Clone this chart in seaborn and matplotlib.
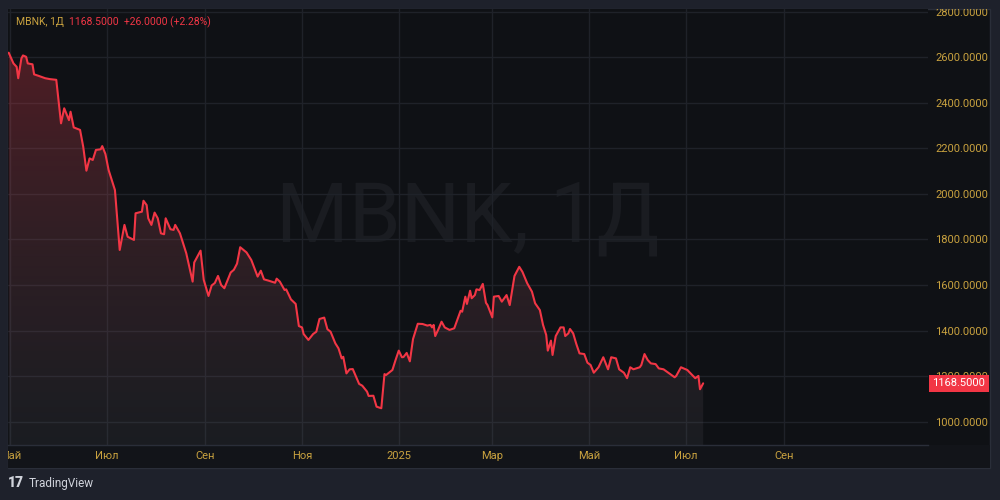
import numpy as np
import pandas as pd
import matplotlib
matplotlib.use("Agg")
import matplotlib.pyplot as plt
import matplotlib.dates as mdates
import matplotlib.transforms as mtransforms
from matplotlib.patches import Rectangle
from matplotlib.colors import to_rgb
import seaborn as sns

# MBNK daily close
dates = [
    "2024-04-30", "2024-05-03", "2024-05-05", "2024-05-06", "2024-05-08", "2024-05-09",
    "2024-05-11", "2024-05-12", "2024-05-15", "2024-05-16", "2024-05-19", "2024-05-23",
    "2024-05-26", "2024-05-30", "2024-06-02", "2024-06-04", "2024-06-07", "2024-06-08",
    "2024-06-10", "2024-06-14", "2024-06-16", "2024-06-18", "2024-06-20", "2024-06-22",
    "2024-06-24", "2024-06-27", "2024-06-28", "2024-06-30", "2024-07-02", "2024-07-06",
    "2024-07-09", "2024-07-12", "2024-07-14", "2024-07-18", "2024-07-19", "2024-07-23",
    "2024-07-24", "2024-07-26", "2024-07-27", "2024-07-29", "2024-07-31", "2024-08-02",
    "2024-08-04", "2024-08-06", "2024-08-07", "2024-08-10", "2024-08-12", "2024-08-13",
    "2024-08-16", "2024-08-20", "2024-08-24", "2024-08-25", "2024-08-29", "2024-08-31",
    "2024-09-03", "2024-09-05", "2024-09-07", "2024-09-09", "2024-09-11", "2024-09-13",
    "2024-09-17", "2024-09-19", "2024-09-21", "2024-09-23", "2024-09-27", "2024-09-30",
    "2024-10-04", "2024-10-06", "2024-10-08", "2024-10-11", "2024-10-15", "2024-10-16",
    "2024-10-18", "2024-10-21", "2024-10-22", "2024-10-25", "2024-10-28", "2024-10-30",
    "2024-11-01", "2024-11-02", "2024-11-05", "2024-11-08", "2024-11-10", "2024-11-12",
    "2024-11-15", "2024-11-17", "2024-11-19", "2024-11-22", "2024-11-24", "2024-11-26",
    "2024-11-27", "2024-11-29", "2024-12-01", "2024-12-03", "2024-12-07", "2024-12-09",
    "2024-12-12", "2024-12-13", "2024-12-16", "2024-12-18", "2024-12-21", "2024-12-23",
    "2024-12-24", "2024-12-28", "2024-12-30", "2025-01-01", "2025-01-03", "2025-01-04",
    "2025-01-06", "2025-01-08", "2025-01-10", "2025-01-13", "2025-01-16", "2025-01-19",
    "2025-01-21", "2025-01-22", "2025-01-23", "2025-01-24", "2025-01-26", "2025-01-28",
    "2025-01-30", "2025-02-02", "2025-02-05", "2025-02-09", "2025-02-10", "2025-02-12",
    "2025-02-13", "2025-02-15", "2025-02-16", "2025-02-18", "2025-02-19", "2025-02-21",
    "2025-02-23", "2025-02-25", "2025-02-26", "2025-03-01", "2025-03-02", "2025-03-05",
    "2025-03-07", "2025-03-10", "2025-03-12", "2025-03-15", "2025-03-18", "2025-03-20",
    "2025-03-23", "2025-03-26", "2025-03-28", "2025-03-31", "2025-04-02", "2025-04-04",
    "2025-04-05", "2025-04-07", "2025-04-08", "2025-04-10", "2025-04-13", "2025-04-15",
    "2025-04-16", "2025-04-18", "2025-04-19", "2025-04-21", "2025-04-23", "2025-04-25",
    "2025-04-28", "2025-04-30", "2025-05-02", "2025-05-04", "2025-05-07", "2025-05-10",
    "2025-05-13", "2025-05-15", "2025-05-18", "2025-05-20", "2025-05-23", "2025-05-25",
    "2025-05-27", "2025-05-29", "2025-06-02", "2025-06-03", "2025-06-05", "2025-06-07",
    "2025-06-09", "2025-06-12", "2025-06-14", "2025-06-17", "2025-06-20", "2025-06-24",
    "2025-06-25", "2025-06-28", "2025-07-02", "2025-07-05", "2025-07-07", "2025-07-09",
    "2025-07-10", "2025-07-12",
]
close = [
    2620, 2573, 2558, 2508, 2595, 2608,
    2602, 2573, 2569, 2525, 2518, 2508,
    2504, 2501, 2310, 2376, 2324, 2361,
    2292, 2281, 2207, 2102, 2156, 2149,
    2193, 2196, 2210, 2175, 2105, 2017,
    1754, 1864, 1812, 1798, 1915, 1922,
    1970, 1951, 1893, 1864, 1918, 1893,
    1827, 1823, 1893, 1845, 1842, 1864,
    1827, 1739, 1615, 1699, 1751, 1623,
    1552, 1598, 1609, 1640, 1600, 1586,
    1655, 1667, 1694, 1766, 1743, 1710,
    1637, 1663, 1625, 1619, 1610, 1628,
    1615, 1578, 1581, 1537, 1517, 1420,
    1414, 1385, 1359, 1385, 1395, 1451,
    1457, 1406, 1395, 1344, 1322, 1278,
    1285, 1212, 1230, 1231, 1166, 1158,
    1132, 1113, 1114, 1066, 1059, 1209,
    1205, 1227, 1271, 1312, 1283, 1284,
    1302, 1265, 1363, 1430, 1429, 1422,
    1425, 1414, 1425, 1376, 1406, 1439,
    1414, 1403, 1410, 1487, 1483, 1549,
    1517, 1575, 1542, 1556, 1581, 1578,
    1605, 1522, 1512, 1458, 1549, 1552,
    1527, 1556, 1512, 1640, 1680, 1658,
    1608, 1571, 1520, 1490, 1425, 1381,
    1312, 1356, 1293, 1376, 1414, 1414,
    1376, 1388, 1407, 1388, 1341, 1300,
    1297, 1259, 1249, 1215, 1239, 1283,
    1230, 1283, 1278, 1230, 1215, 1191,
    1239, 1230, 1239, 1249, 1297, 1271,
    1256, 1253, 1234, 1230, 1215, 1195,
    1201, 1239, 1227, 1205, 1191, 1201,
    1142.5, 1168.5,
]

tick_dates = ["2024-05-01", "2024-07-01", "2024-09-01", "2024-11-01", "2025-01-01",
              "2025-03-01", "2025-05-01", "2025-07-01", "2025-09-01"]
tick_labels = ["Май", "Июл", "Сен", "Ноя", "2025", "Мар", "Май", "Июл", "Сен"]
price_ticks = [1000, 1200, 1400, 1600, 1800, 2000, 2200, 2400, 2600, 2800]

symbol = "MBNK, 1Д"
last_price = 1168.5
change = 26.0
change_pct = 2.28

# colours
OUTER = "#1e212b"
BG = "#0f1115"
STRIP = "#121419"
BORDER = "#2a2e39"
GRID = "#1f2229"
GOLD = "#c9a23f"
RED = "#f23645"
WATERMARK = "#1a1c21"

sns.set_theme(style="dark")
plt.rcParams["font.family"] = ["Roboto", "DejaVu Sans"]

df = pd.DataFrame({"date": pd.to_datetime(dates), "close": close})

W, H = 1000, 500
def fx(px):
    return px / W
def fy(py):
    return 1 - py / H

fig = plt.figure(figsize=(10, 5), dpi=100, facecolor=OUTER)

# chart panel + time-scale strip (behind the axes)
fig.patches.append(Rectangle((fx(8), fy(468)), fx(990) - fx(8), fy(9) - fy(468),
                             transform=fig.transFigure, fc=BG, ec=BORDER, lw=1, zorder=-2))
fig.patches.append(Rectangle((fx(8), fy(468)), fx(990) - fx(8), fy(445) - fy(468),
                             transform=fig.transFigure, fc=STRIP, ec="none", zorder=-1))

ax = fig.add_axes([fx(8), fy(445), fx(928) - fx(8), fy(9) - fy(445)])
ax.set_facecolor(BG)

base = mdates.date2num(pd.Timestamp("2024-05-01"))
xmin, xmax = base - 1.45, base + 578.8
ymin, ymax = 897.7, 2811.9

# area gradient clipped to the region under the line
poly = ax.fill_between(df["date"], df["close"], ymin, color="none", lw=0)
n = 256
t = np.linspace(0, 1, n)[:, None]
top_rgb = np.array(to_rgb(RED))
bot_rgb = np.array([0.36, 0.37, 0.41])
rgba = np.zeros((n, 1, 4))
rgba[:, 0, :3] = bot_rgb * (1 - t) + top_rgb * t
rgba[:, 0, 3] = (0.15 + 0.17 * t)[:, 0]
im = ax.imshow(rgba, extent=[xmin, xmax, ymin, ymax], origin="lower",
               aspect="auto", zorder=1, interpolation="bilinear")
im.set_clip_path(poly.get_paths()[0], transform=ax.transData)

sns.lineplot(data=df, x="date", y="close", ax=ax, color=RED, lw=1.5, zorder=3)

ax.set_xlim(xmin, xmax)
ax.set_ylim(ymin, ymax)

# watermark
ax.text(0.5, 0.466, symbol, transform=ax.transAxes, ha="center", va="baseline",
        fontsize=60, color=WATERMARK, zorder=0.5)

ax.set_xlabel("")
ax.set_ylabel("")
ax.set_xticks(mdates.date2num(pd.to_datetime(tick_dates)))
ax.set_xticklabels(tick_labels)
ax.yaxis.tick_right()
ax.set_yticks(price_ticks)
ax.set_yticklabels([f"{v:.4f}" for v in price_ticks])
ax.tick_params(axis="x", length=0, pad=4.5, labelsize=8, labelcolor=GOLD)
ax.tick_params(axis="y", length=0, pad=5, labelsize=8, labelcolor=GOLD)
ax.grid(True, color=GRID, lw=1)
for side in ["top", "left", "right"]:
    ax.spines[side].set_visible(False)
ax.spines["bottom"].set_color(BORDER)
ax.spines["bottom"].set_linewidth(1)

# keep labels inside the panel
clip = mtransforms.TransformedBbox(
    mtransforms.Bbox.from_extents(fx(8), fy(468), fx(990), fy(9)), fig.transFigure)
for tk in ax.xaxis.get_major_ticks() + ax.yaxis.get_major_ticks():
    for lab in (tk.label1, tk.label2):
        lab.set_clip_box(clip)
        lab.set_clip_on(True)

# last price tag
ax.text(1 + 4.5 / 920, last_price, f"{last_price:.4f}",
        transform=mtransforms.blended_transform_factory(ax.transAxes, ax.transData),
        ha="left", va="center", fontsize=8, color="white", zorder=5, clip_on=False,
        bbox=dict(boxstyle="square,pad=0.3", fc=RED, ec="none"))

# legend line
fig.text(fx(16), fy(22), symbol, color=GOLD, fontsize=7.5, va="center")
fig.text(fx(69), fy(22), f"{last_price:.4f}  +{change:.4f} (+{change_pct:.2f}%)",
         color=RED, fontsize=7.5, va="center")

# branding
fig.text(fx(8), fy(483), "17", color="#d1d4dc", fontsize=10, weight="black", va="center")
fig.text(fx(29), fy(483), "TradingView", color="#d1d4dc", fontsize=8.5, va="center")

fig.savefig("out.png", dpi=100, facecolor=OUTER)
